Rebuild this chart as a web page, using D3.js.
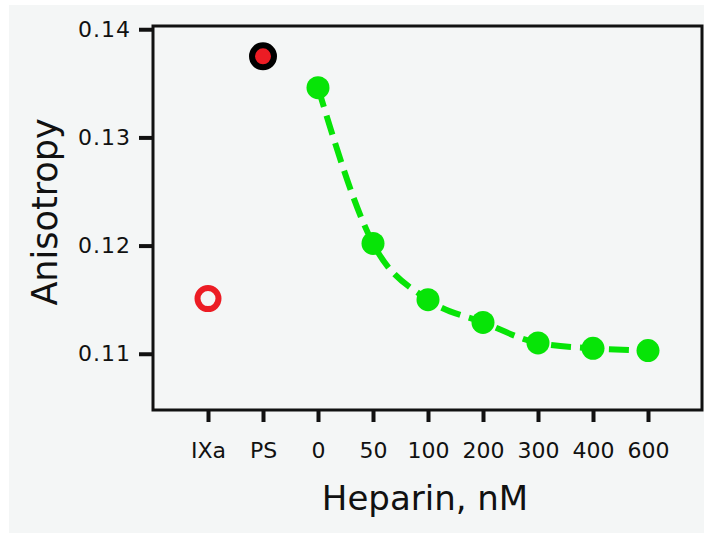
<!DOCTYPE html>
<html>
<head>
	<script src="https://cdnjs.cloudflare.com/ajax/libs/d3/7.8.2/d3.min.js"></script>
	<style>
		body {
			margin: 0 ;
			background: white ;
		}
		text {
			font-family: "DejaVu Sans", Verdana, sans-serif ;
			fill: #111 ;
		}
	</style>
</head>
<body>
	<svg id="canvas"></svg>
</body>
<script>
	// categories along the x axis (two controls, then heparin concentrations in nM)
	let categories = [ "IXa", "PS", "0", "50", "100", "200", "300", "400", "600" ] ;
	// titration series
	let heparin = [ "0", "50", "100", "200", "300", "400", "600" ] ;
	let anisotropy = [ 0.1346, 0.1202, 0.1150, 0.1129, 0.1110, 0.1105, 0.1103 ] ;
	// control points
	let ixaValue = [ 0.1151 ] ;
	let psValue = [ 0.1375 ] ;
	let yTicks = [ 0.11, 0.12, 0.13, 0.14 ] ;

	let geom = {
		width: 704,
		height: 533,
		margin: {
			left: 153,
			right: 1,
			top: 26,
			bottom: 123
		}
	} ;

	let scales = {
		x: d3.scalePoint()
			.domain( categories )
			.range( [ geom.margin.left, geom.width - geom.margin.right ] )
			.padding( 1 ),
		y: d3.scaleLinear()
			.domain( [ 0.1048, 0.1403 ] )
			.range( [ geom.height - geom.margin.bottom, geom.margin.top ] )
	} ;

	let svg = d3.select( 'svg' )
		.attr( 'width', geom.width )
		.attr( 'height', geom.height ) ;

	// light grey page behind the chart
	svg.append( 'rect' )
		.attr( 'x', 9 )
		.attr( 'y', 5 )
		.attr( 'width', geom.width - 9 )
		.attr( 'height', geom.height - 5 )
		.attr( 'fill', '#f4f6f6' ) ;

	let yaxis = svg.append( 'g' )
		.attr( 'class', 'yaxis' )
		.attr( 'transform', 'translate(' + geom.margin.left + ',0)' )
		.call( d3.axisLeft( scales.y )
			.tickValues( yTicks )
			.tickFormat( d3.format( '.2f' ) )
			.tickSize( 14 )
			.tickPadding( 8 ) ) ;

	let xaxis = svg.append( 'g' )
		.attr( 'class', 'xaxis' )
		.attr( 'transform', 'translate(0,' + (geom.height - geom.margin.bottom) + ')' )
		.call( d3.axisBottom( scales.x )
			.tickSize( 12 )
			.tickPadding( 20 ) ) ;

	svg.selectAll( '.domain' ).remove() ;
	svg.selectAll( '.tick line' )
		.attr( 'stroke', '#111' )
		.attr( 'stroke-width', 4 ) ;
	yaxis.selectAll( 'text' )
		.style( 'font-size', '22px' )
		.style( 'letter-spacing', '1px' ) ;
	xaxis.selectAll( 'text' )
		.style( 'font-size', '22px' ) ;

	// plot frame
	svg.append( 'rect' )
		.attr( 'x', geom.margin.left )
		.attr( 'y', geom.margin.top )
		.attr( 'width', geom.width - geom.margin.left - geom.margin.right - 1 )
		.attr( 'height', geom.height - geom.margin.top - geom.margin.bottom )
		.attr( 'fill', 'none' )
		.attr( 'stroke', '#111' )
		.attr( 'stroke-width', 3 ) ;

	let green = '#07e407' ;
	let red = '#ec1c24' ;

	let line = d3.line()
		.x( (d, i) => scales.x( heparin[i] ) )
		.y( d => scales.y( d ) )
		.curve( d3.curveMonotoneX ) ;

	svg.append( 'path' )
		.attr( 'd', line( anisotropy ) )
		.attr( 'fill', 'none' )
		.attr( 'stroke', green )
		.attr( 'stroke-width', 6 )
		.attr( 'stroke-dasharray', '20,9' ) ;

	svg.selectAll( 'circle.heparin' )
		.data( anisotropy )
		.enter()
		.append( 'circle' )
		.attr( 'class', 'heparin' )
		.attr( 'cx', (d, i) => scales.x( heparin[i] ) )
		.attr( 'cy', d => scales.y( d ) )
		.attr( 'r', 11.5 )
		.attr( 'fill', green ) ;

	svg.selectAll( 'circle.ixa' )
		.data( ixaValue )
		.enter()
		.append( 'circle' )
		.attr( 'class', 'ixa' )
		.attr( 'cx', scales.x( 'IXa' ) )
		.attr( 'cy', d => scales.y( d ) )
		.attr( 'r', 10.5 )
		.attr( 'fill', 'none' )
		.attr( 'stroke', red )
		.attr( 'stroke-width', 6 ) ;

	svg.selectAll( 'circle.ps' )
		.data( psValue )
		.enter()
		.append( 'circle' )
		.attr( 'class', 'ps' )
		.attr( 'cx', scales.x( 'PS' ) )
		.attr( 'cy', d => scales.y( d ) )
		.attr( 'r', 11 )
		.attr( 'fill', red )
		.attr( 'stroke', '#000' )
		.attr( 'stroke-width', 6 ) ;

	// axis titles
	svg.append( 'text' )
		.attr( 'transform', 'translate(57,' + 212 + ') rotate(-90)' )
		.attr( 'text-anchor', 'middle' )
		.style( 'font-size', '35px' )
		.text( 'Anisotropy' ) ;

	svg.append( 'text' )
		.attr( 'x', 425 )
		.attr( 'y', 510 )
		.attr( 'text-anchor', 'middle' )
		.style( 'font-size', '34px' )
		.text( 'Heparin, nM' ) ;
</script>
</html>
